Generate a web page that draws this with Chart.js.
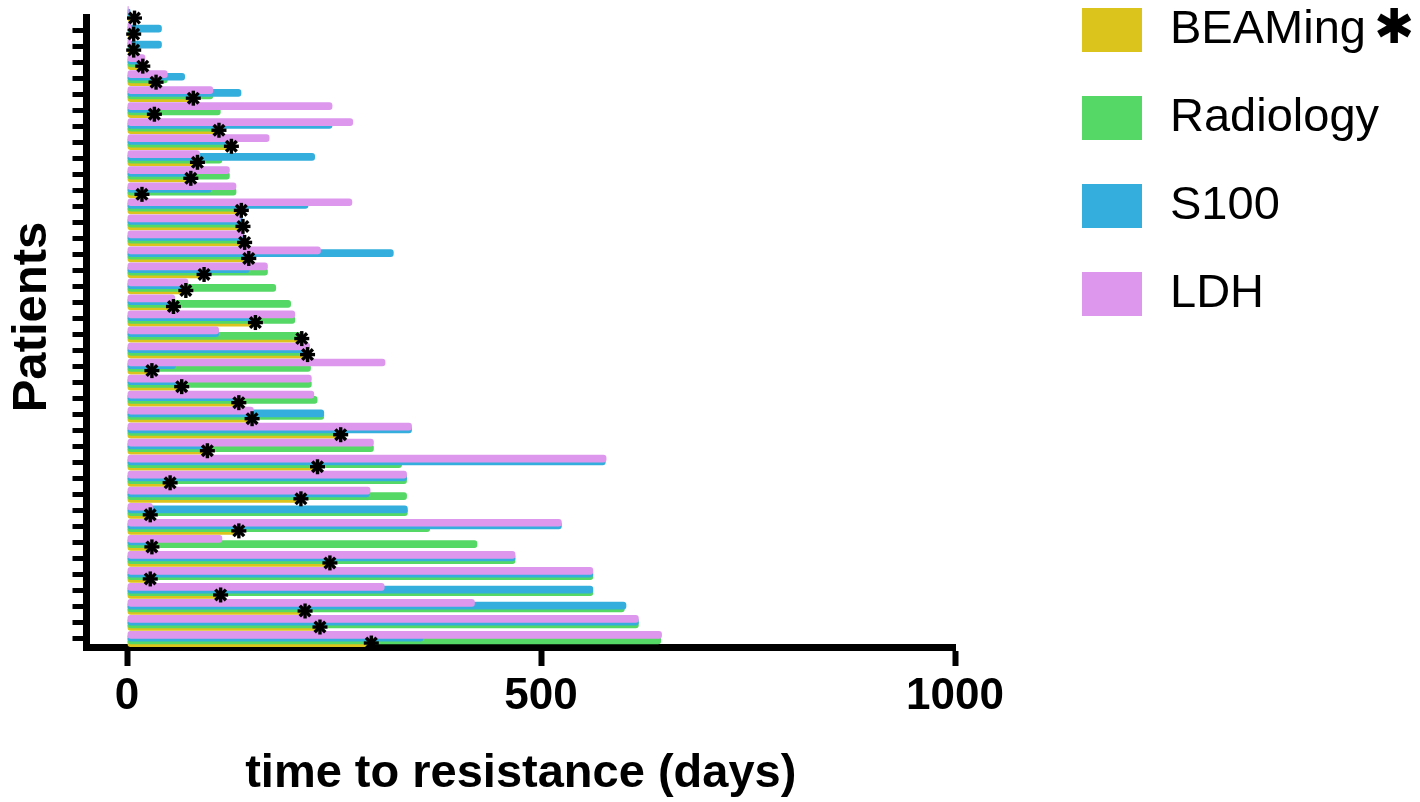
<!DOCTYPE html>
<html>
<head>
<meta charset="utf-8">
<script src="https://cdn.jsdelivr.net/npm/chart.js@4.4.0/dist/chart.umd.min.js"></script>
<style>
  html, body { margin: 0; padding: 0; background: #fff; }
  #wrap { width: 1420px; height: 802px; position: relative; }
</style>
</head>
<body>
<div id="wrap"><canvas id="chart"></canvas></div>
<script>
// patients, top to bottom
const patients = ['1','2','3','4','5','6','7','8','9','10','11','12','13','14','15','16','17','18','19','20',
  '21','22','23','24','25','26','27','28','29','30','31','32','33','34','35','36','37','38','39','40'];

// time to resistance (days) per marker
const beaming = [9, 8, 8, 19, 35, 80, 33, 111, 126, 85, 77, 18, 138, 140, 142, 147, 93, 71, 56, 155,
  211, 218, 30, 66, 135, 151, 258, 97, 230, 52, 210, 28, 135, 30, 245, 28, 113, 215, 233, 295];
const radiology = [4, 6, 6, 18, 49, 104, 113, 108, 122, 115, 124, 132, 138, 139, 141, 146, 170, 180, 198, 203,
  213, 219, 222, 223, 230, 238, 257, 298, 332, 338, 338, 339, 366, 423, 469, 563, 563, 601, 618, 645];
const s100 = [4, 42, 42, 19, 70, 138, 30, 248, 122, 227, 78, 102, 219, 140, 142, 322, 148, 70, 55, 153,
  111, 218, 59, 62, 130, 238, 344, 94, 578, 338, 293, 339, 525, 30, 469, 563, 563, 603, 618, 358];
const ldh = [2, 5, 5, 22, 49, 104, 248, 273, 172, 88, 124, 132, 272, 137, 140, 234, 170, 74, 58, 203,
  111, 221, 312, 223, 226, 153, 344, 298, 579, 338, 294, 31, 525, 115, 469, 563, 311, 420, 618, 646];

const xTicks = [0, 500, 1000];

// legend order as in the figure
const seriesNames = ['BEAMing', 'Radiology', 'S100', 'LDH'];
const seriesColors = ['#dbc41b', '#55d865', '#34aedd', '#dd97ed'];

const FONT = '"Liberation Sans", Arial, Helvetica, sans-serif';
Chart.defaults.font.family = FONT;
Chart.defaults.color = '#000';

function barSet(label, data, color) {
  return {
    label: label,
    data: data,
    backgroundColor: color,
    borderWidth: 0,
    borderRadius: 3,
    borderSkipped: false,
    categoryPercentage: 0.675,
    barPercentage: 2.85
  };
}

// asterisks at the end of each BEAMing bar
const asteriskPlugin = {
  id: 'asterisks',
  afterDatasetsDraw(chart) {
    const meta = chart.getDatasetMeta(3);
    const ctx = chart.ctx;
    const r = 7.5;
    ctx.save();
    ctx.strokeStyle = '#000';
    ctx.lineWidth = 3.4;
    meta.data.forEach(bar => {
      for (let k = 0; k < 4; k++) {
        const a = k * Math.PI / 4;
        ctx.beginPath();
        ctx.moveTo(bar.x - r * Math.cos(a), bar.y - r * Math.sin(a));
        ctx.lineTo(bar.x + r * Math.cos(a), bar.y + r * Math.sin(a));
        ctx.stroke();
      }
    });
    ctx.restore();
  }
};

// y axis line (starts at the first patient) and the rotated title
const yAxisPlugin = {
  id: 'yAxisLine',
  beforeDatasetsDraw(chart) {
    const ctx = chart.ctx;
    const y = chart.scales.y;
    const area = chart.chartArea;
    ctx.save();
    ctx.fillStyle = '#000';
    ctx.fillRect(area.left - 3.5, y.getPixelForTick(0), 7, area.bottom + 3.5 - y.getPixelForTick(0));
    ctx.translate(32.5, 317);
    ctx.rotate(-Math.PI / 2);
    ctx.font = 'bold 49px ' + FONT;
    ctx.textAlign = 'center';
    ctx.textBaseline = 'middle';
    ctx.fillText('Patients', 0, 0);
    ctx.restore();
  }
};

const legendPlugin = {
  id: 'sideLegend',
  afterDraw(chart) {
    const ctx = chart.ctx;
    ctx.save();
    seriesNames.forEach((name, i) => {
      const cy = 30 + i * 88;
      ctx.fillStyle = seriesColors[i];
      ctx.fillRect(1082, cy - 22, 60, 44);
      ctx.fillStyle = '#000';
      ctx.font = '47px ' + FONT;
      ctx.textAlign = 'left';
      ctx.textBaseline = 'middle';
      ctx.fillText(name, 1170, cy);
      if (i === 0) {
        const w = ctx.measureText(name).width;
        ctx.font = 'bold 48px "DejaVu Sans", sans-serif';
        ctx.fillText('\u2731', 1170 + w + 8, cy + 1);
      }
    });
    ctx.restore();
  }
};

new Chart(document.getElementById('chart'), {
  type: 'bar',
  data: {
    labels: patients,
    datasets: [
      barSet('LDH', ldh, seriesColors[3]),
      barSet('S100', s100, seriesColors[2]),
      barSet('Radiology', radiology, seriesColors[1]),
      barSet('BEAMing', beaming, seriesColors[0])
    ]
  },
  plugins: [yAxisPlugin, asteriskPlugin, legendPlugin],
  options: {
    indexAxis: 'y',
    responsive: true,
    maintainAspectRatio: false,
    animation: false,
    layout: { padding: { top: 6, right: 465, left: 0, bottom: 0 } },
    plugins: {
      legend: { display: false },
      tooltip: { enabled: false }
    },
    scales: {
      x: {
        type: 'linear',
        min: -49,
        max: 1000,
        afterBuildTicks: s => { s.ticks = xTicks.map(v => ({ value: v })); },
        afterFit: s => { s.height = 155; },
        grid: { drawOnChartArea: false, tickLength: 19, tickWidth: 6, tickColor: '#000' },
        border: { display: true, width: 7, color: '#000' },
        ticks: { color: '#000', padding: 4, font: { size: 44, weight: 'bold' }, callback: v => String(v) },
        title: {
          display: true,
          text: 'time to resistance (days)',
          color: '#000',
          font: { size: 47, weight: 'bold' },
          padding: { top: 0, bottom: 0 }
        }
      },
      y: {
        type: 'category',
        offset: true,
        afterFit: s => { s.width = 86.5; },
        grid: {
          drawOnChartArea: false,
          offset: false,
          tickLength: 14,
          tickWidth: 5,
          tickColor: c => (c.index === 0 ? 'rgba(0,0,0,0)' : '#000')
        },
        border: { display: false },
        ticks: { display: false }
      }
    }
  }
});
</script>
</body>
</html>
